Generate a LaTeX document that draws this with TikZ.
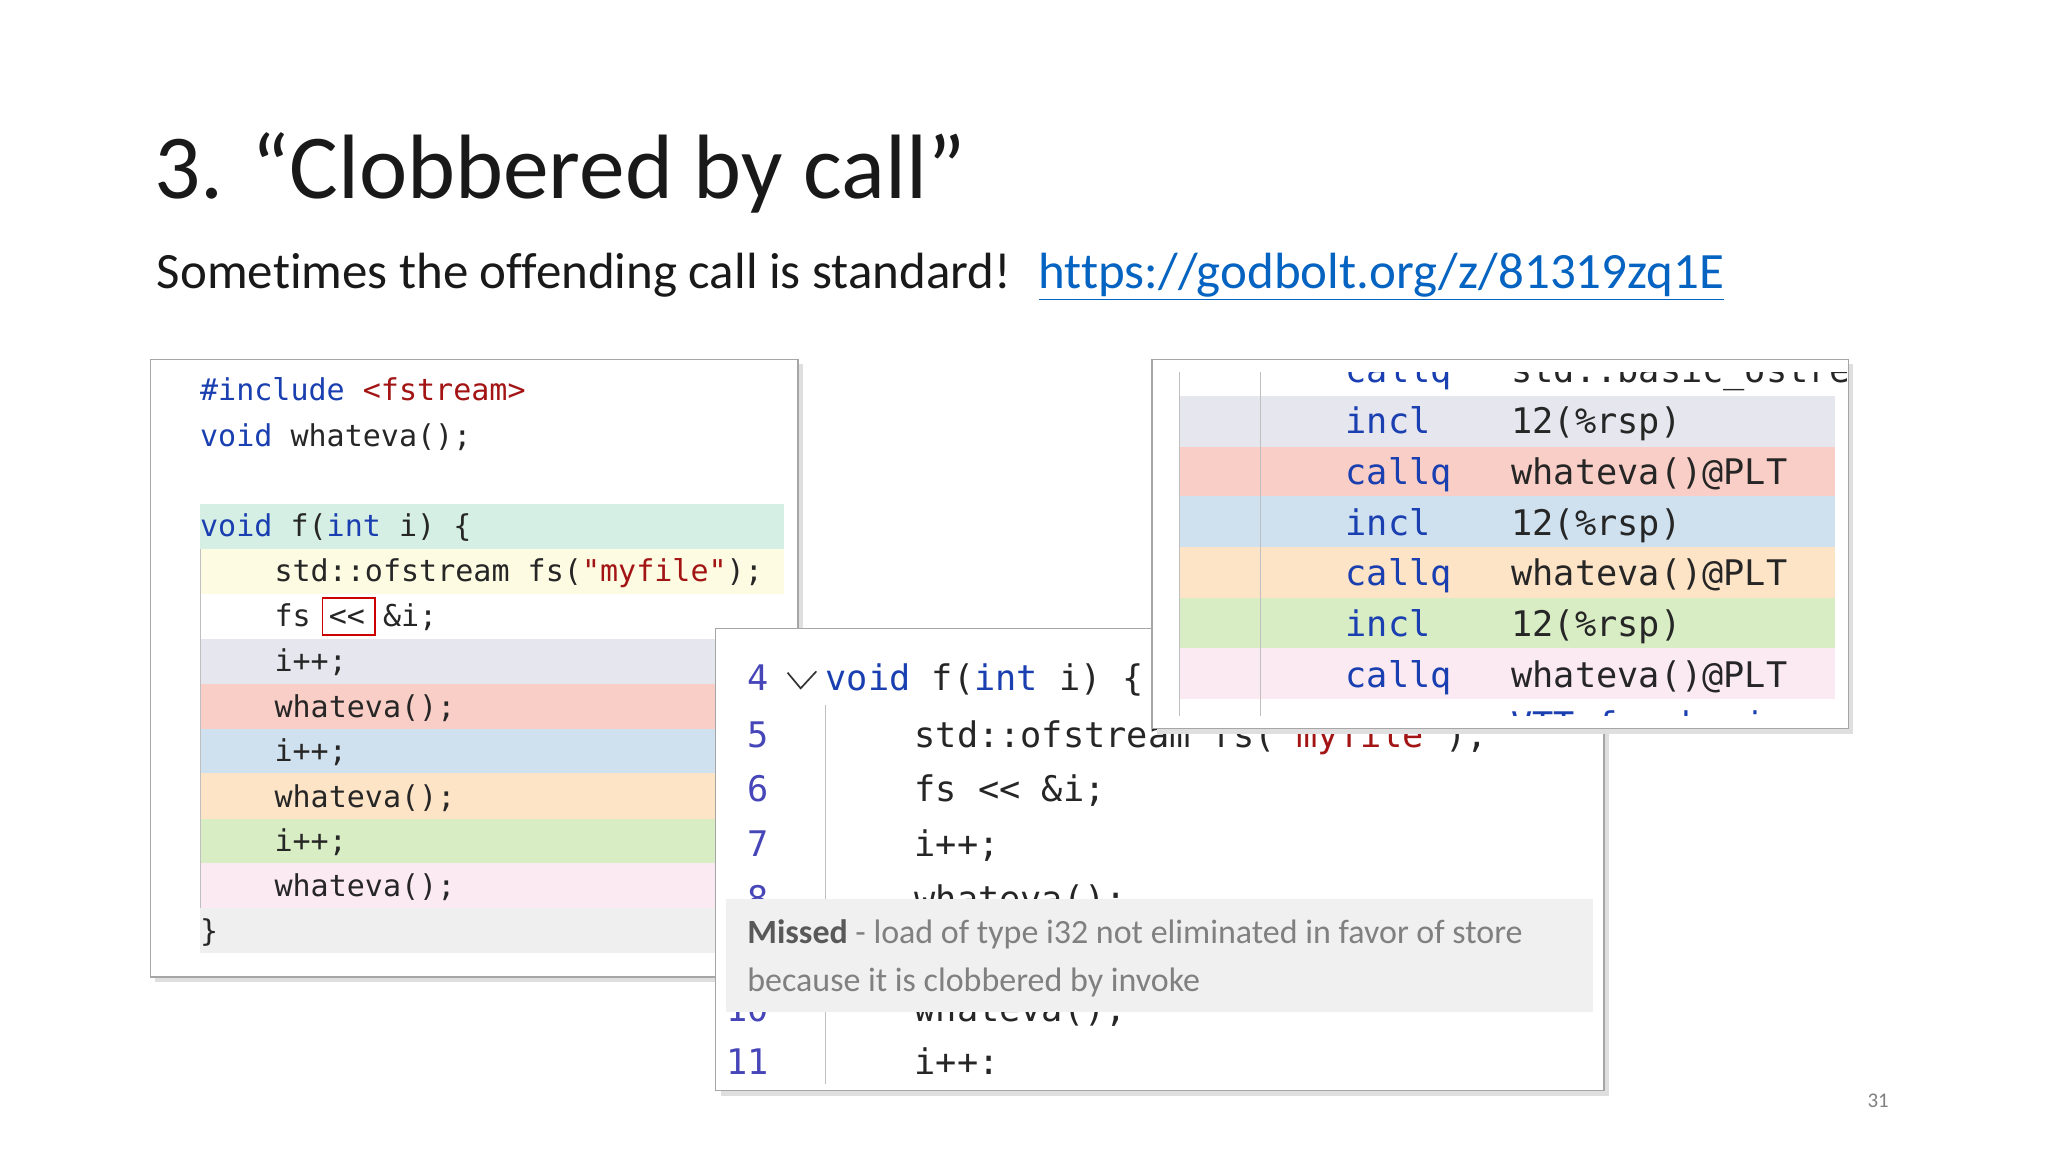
\documentclass[tikz,border=0pt]{standalone}
\usepackage{fontspec}
\setmainfont{Carlito}[Ligatures=NoCommon]
\setmonofont{DejaVu Sans Mono}
\begin{document}
\begin{tikzpicture}[x=1pt,y=-1pt,
  code/.style={anchor=base west,inner sep=0pt,font=\fontsize{23}{23}\selectfont\ttfamily,text=black!85},
  mcode/.style={anchor=base west,inner sep=0pt,font=\fontsize{27}{27}\selectfont\ttfamily,text=black!85},
  lnum/.style={anchor=base west,inner sep=0pt,font=\fontsize{27}{27}\selectfont\ttfamily,text=blue!45!gray},
  panel/.style={draw=gray!70,fill=white,line width=1pt},
  tip/.style={anchor=base west,inner sep=0pt,font=\fontsize{26}{26}\selectfont,text=gray}]
\definecolor{kw}{HTML}{1A3FB0}\definecolor{str}{HTML}{A31515}
\definecolor{cT}{HTML}{D6EFE5}\definecolor{cY}{HTML}{FDFBE2}\definecolor{cL}{HTML}{E6E6EF}
\definecolor{cR}{HTML}{F9CEC6}\definecolor{cB}{HTML}{CFE1EF}\definecolor{cO}{HTML}{FDE4C6}
\definecolor{cG}{HTML}{D9EDC5}\definecolor{cP}{HTML}{FCEAF2}\definecolor{cE}{HTML}{EFEFEF}
\definecolor{link}{HTML}{0563C1}
\useasboundingbox (0,0) rectangle (1568,882);
\fill[white] (0,0) rectangle (1568,882);
\node[anchor=base west,inner sep=0pt,font=\fontsize{70}{70}\selectfont,text=black!90] (title) at (118,152) {3. “Clobbered by call”};
\node[anchor=base west,inner sep=0pt,font=\fontsize{39}{39}\selectfont,text=black!90] (sub) at (120,221) {Sometimes the offending call is standard!};
\node[anchor=base west,inner sep=0pt,font=\fontsize{39}{39}\selectfont,text=link] (url) at (795,221) {\underline{https://godbolt.org/z/81319zq1E}};
% left panel
\fill[gray!25] (119,279) rectangle (615,752);
\draw[panel] (115,275) rectangle (611,748);
\fill[cT] (153,386) rectangle (600,420);
\fill[cY] (153,420) rectangle (600,455);
\fill[cL] (153,489) rectangle (600,524);
\fill[cR] (153,524) rectangle (600,558);
\fill[cB] (153,558) rectangle (600,592);
\fill[cO] (153,592) rectangle (600,627);
\fill[cG] (153,627) rectangle (600,661);
\fill[cP] (153,661) rectangle (600,695);
\fill[cE] (153,695) rectangle (600,730);
\draw[gray!50] (153,420) -- (153,695);
\node[code] (l1) at (153,307) {\textcolor{kw}{\#include} \textcolor{str}{<fstream>}};
\node[code] (l2) at (153,342) {\textcolor{kw}{void} whateva();};
\node[code] (l3) at (153,411) {\textcolor{kw}{void} f(\textcolor{kw}{int} i) \{};
\node[code] (l4) at (210,445) {std::ofstream fs(\textcolor{str}{"myfile"});};
\node[code] (l5) at (210,480) {fs << \&i;};
\draw[red!80!black,line width=1.2pt] (247,458) rectangle (287,486);
\node[code] (l6) at (210,514) {i++;};
\node[code] (l7) at (210,549) {whateva();};
\node[code] (l8) at (210,583) {i++;};
\node[code] (l9) at (210,618) {whateva();};
\node[code] (l10) at (210,652) {i++;};
\node[code] (l11) at (210,686) {whateva();};
\node[code] (l12) at (153,721) {\}};
% middle panel
\fill[gray!25] (552,485) rectangle (1232,839);
\draw[panel] (548,481) rectangle (1228,835);
\draw[gray!50] (632,540) -- (632,830);
\node[lnum] (n4) at (572,529) {4};
\draw[black!80,line width=1.3pt] (603,515) -- (613,527) -- (625,514);
\node[mcode] (m4) at (632,529) {\textcolor{kw}{void} f(\textcolor{kw}{int} i) \{};
\node[lnum] (n5) at (572,572) {5};
\node[mcode] (m5) at (700,572) {std::ofstream fs(\textcolor{str}{"myfile"});};
\node[lnum] (n6) at (572,614) {6};
\node[mcode] (m6) at (700,614) {fs << \&i;};
\node[lnum] (n7) at (572,656) {7};
\node[mcode] (m7) at (700,656) {i++;};
\node[lnum] (n8) at (572,698) {8};
\node[mcode] (m8) at (700,698) {whateva();};
\node[lnum] (n10) at (556,782) {10};
\node[mcode] (m10) at (700,782) {whateva();};
\fill[gray!12] (556,688) rectangle (1220,775);
\node[lnum] (n11) at (556,823) {11};
\node[mcode] (m11) at (700,823) {i++:};
\node[tip] (tip1) at (572,722) {\textbf{\textcolor{black!65}{Missed}} - load of type i32 not eliminated in favor of store};
\node[tip] (tip2) at (572,759) {because it is clobbered by invoke};
% right panel
\fill[gray!25] (886,279) rectangle (1419,562);
\draw[panel] (882,275) rectangle (1415,558);
\begin{scope}
\clip (883,285) rectangle (1414,548);
\fill[cL] (903,303) rectangle (1405,342);
\fill[cR] (903,342) rectangle (1405,380);
\fill[cB] (903,380) rectangle (1405,419);
\fill[cO] (903,419) rectangle (1405,458);
\fill[cG] (903,458) rectangle (1405,496);
\fill[cP] (903,496) rectangle (1405,535);
\draw[gray!50] (903,276) -- (903,557);
\draw[gray!50] (965,276) -- (965,557);
\node[mcode,text=kw] (r0) at (1030,293) {callq};
\node[mcode] (r0b) at (1157,293) {std::basic\_ostre};
\node[mcode,text=kw] (r1) at (1030,332) {incl};
\node[mcode] (r1b) at (1157,332) {12(\%rsp)};
\node[mcode,text=kw] (r2) at (1030,371) {callq};
\node[mcode] (r2b) at (1157,371) {whateva()@PLT};
\node[mcode,text=kw] (r3) at (1030,410) {incl};
\node[mcode] (r3b) at (1157,410) {12(\%rsp)};
\node[mcode,text=kw] (r4) at (1030,448) {callq};
\node[mcode] (r4b) at (1157,448) {whateva()@PLT};
\node[mcode,text=kw] (r5) at (1030,487) {incl};
\node[mcode] (r5b) at (1157,487) {12(\%rsp)};
\node[mcode,text=kw] (r6) at (1030,526) {callq};
\node[mcode] (r6b) at (1157,526) {whateva()@PLT};
\node[mcode,text=kw] (r7) at (1157,565) {VTT for basic};
\end{scope}
\node[anchor=base,inner sep=0pt,font=\fontsize{16}{16}\selectfont,text=gray] (pg) at (1438,848) {31};
\end{tikzpicture}
\end{document}
